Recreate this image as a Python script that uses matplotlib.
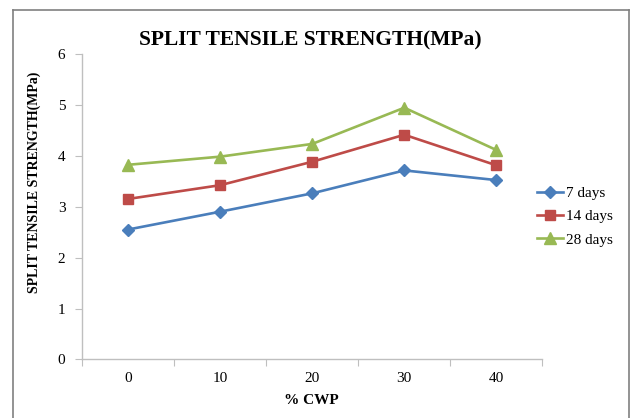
import matplotlib.pyplot as plt
from matplotlib.lines import Line2D

# Split tensile strength vs % CWP replacement
cwp = ['0', '10', '20', '30', '40']
days7 = [2.55, 2.90, 3.26, 3.71, 3.52]
days14 = [3.15, 3.42, 3.88, 4.41, 3.81]
days28 = [3.82, 3.98, 4.23, 4.94, 4.11]

plt.rcParams['font.family'] = ['Liberation Serif', 'DejaVu Serif']

fig = plt.figure(figsize=(6.3, 4.18), dpi=100)
ax = fig.add_axes([0.1302, 0.140, 0.7308, 0.7315])

x = list(range(len(cwp)))
ax.plot(x, days7, color='#4A7EBB', lw=1.9, marker='D', ms=6.5, label='7 days')
ax.plot(x, days14, color='#BE4B48', lw=1.9, marker='s', ms=7.5, label='14 days')
ax.plot(x, days28, color='#98B954', lw=1.9, marker='^', ms=8, label='28 days')

ax.set_xlim(-0.5, len(cwp) - 0.5)
ax.set_ylim(0, 6)
ax.set_yticks(range(0, 7))
ax.set_xticks([i - 0.5 for i in range(len(cwp) + 1)])
ax.set_xticklabels([])
ax.set_xticks(x, minor=True)
ax.set_xticklabels(cwp, minor=True)
ax.tick_params(axis='x', which='major', length=5, color='#BFBFBF', direction='out')
ax.tick_params(axis='x', which='minor', length=0, pad=9, labelsize=11)
ax.tick_params(axis='y', length=5, color='#BFBFBF', direction='out', pad=7, labelsize=11)

for s in ['top', 'right']:
    ax.spines[s].set_visible(False)
for s in ['left', 'bottom']:
    ax.spines[s].set_color('#BFBFBF')
    ax.spines[s].set_linewidth(1.0)

fig.text(0.492, 0.904, 'SPLIT TENSILE STRENGTH(MPa)', ha='center', va='center',
         fontsize=15.5, fontweight='bold')
fig.text(0.054, 0.565, 'SPLIT TENSILE STRENGTH(MPa)', ha='center', va='center',
         rotation=90, fontsize=10, fontweight='bold')
fig.text(0.494, 0.043, '% CWP', ha='center', va='center', fontsize=11, fontweight='bold')

leg = fig.legend(loc='center left', bbox_to_anchor=(0.83, 0.482), frameon=False,
                 fontsize=11, handlelength=1.7, handletextpad=0.25, labelspacing=0.62)

# chart border
border = dict(color='#808080', lw=1.2, transform=fig.transFigure)
fig.add_artist(Line2D([13 / 630, 13 / 630], [0, 1 - 10 / 418], **border))
fig.add_artist(Line2D([13 / 630, 629 / 630], [1 - 10 / 418, 1 - 10 / 418], **border))
fig.add_artist(Line2D([629 / 630, 629 / 630], [0, 1 - 10 / 418], **border))

fig.savefig('out.png', dpi=100)
